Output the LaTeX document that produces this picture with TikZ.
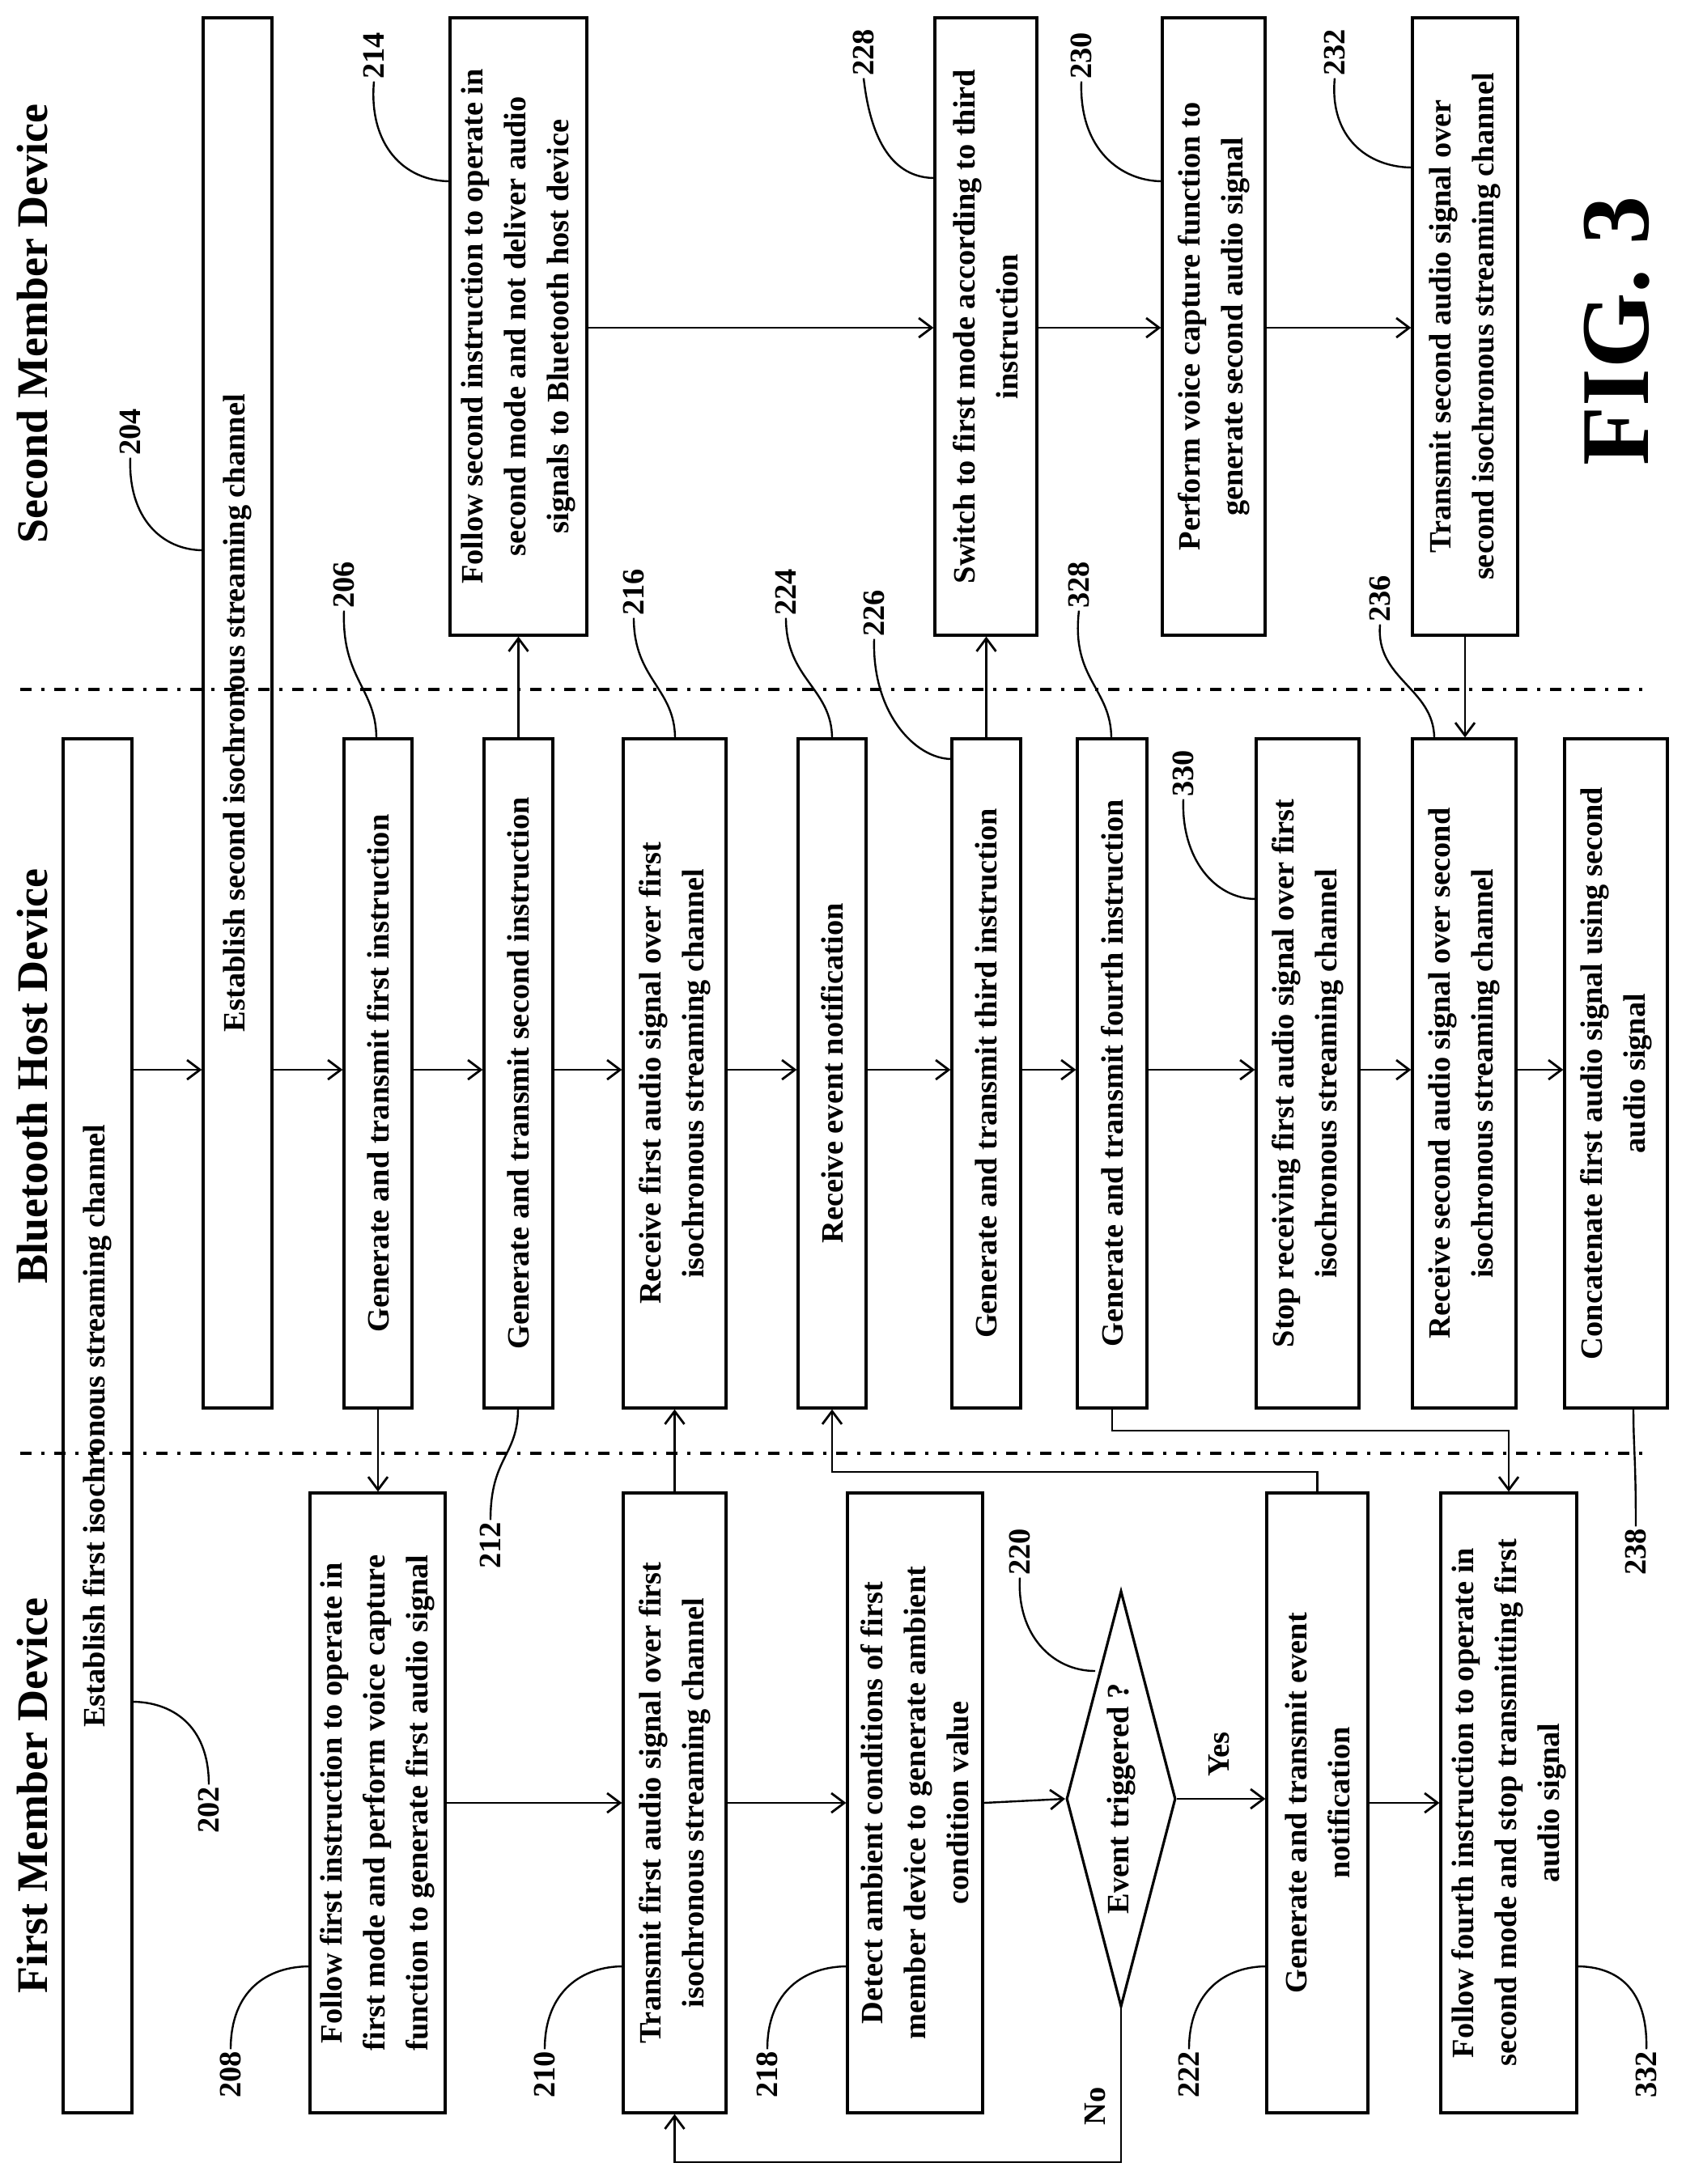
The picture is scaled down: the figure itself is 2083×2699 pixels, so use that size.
\documentclass[tikz,border=0pt]{standalone}
\usepackage{fontspec}
\setmainfont{Liberation Serif}
\usetikzlibrary{arrows.meta,shapes.geometric}
\begin{document}
\begin{tikzpicture}[x=0.25pt,y=-0.25pt,
  bx/.style 2 args={draw,line width=0.8pt,rotate=90,minimum width=#1*0.25pt,minimum height=#2*0.25pt,inner sep=1pt,align=center,font=\fontsize{9.6}{13.2}\selectfont\bfseries},
  lab/.style={rotate=90,inner sep=0.5pt,font=\fontsize{9.6}{11}\selectfont\bfseries},
  head/.style={rotate=90,inner sep=0pt,font=\fontsize{13.5}{15}\selectfont\bfseries},
  arr/.style={line width=0.6pt,-{Straight Barb[length=4pt,width=6pt,line width=0.7pt]}},
  lead/.style={line width=0.6pt},
  dd/.style={line width=1pt,dash pattern=on 3.5pt off 3pt on 1pt off 3pt}]
\useasboundingbox (0,0) rectangle (2083,2699);
\coordinate (r1) at (0,1322);
\coordinate (r2) at (0,405);
\coordinate (r3) at (0,2228);
% headings
\node[head] (h1) at (40,400) {Second Member Device};
\node[head] (h2) at (40,1330) {Bluetooth Host Device};
\node[head] (h3) at (40,2219) {First Member Device};
\node[rotate=90,font=\fontsize{30}{32}\selectfont\bfseries] (fig) at (1998,409) {FIG. 3};
% dashed separators
\draw[dd] (25,852) -- (2040,852);
\draw[dd] (25,1796) -- (2040,1796);
% long boxes
\node[bx={1698}{85}] (ef) at (120.5,1762) {Establish first isochronous streaming channel};
\node[bx={1718}{85}] (b204) at (293.5,881) {Establish second isochronous streaming channel};
% second member
\node[bx={763}{169}] (b214) at (640.5,403.5) {Follow second instruction to operate in\\second mode and not deliver audio\\signals to Bluetooth host device};
\node[bx={763}{126}] (b228) at (1218,403.5) {Switch to first mode according to third\\instruction};
\node[bx={763}{127}] (b230) at (1499.5,403.5) {Perform voice capture function to\\generate second audio signal};
\node[bx={763}{130}] (b232) at (1810,403.5) {Transmit second audio signal over\\second isochronous streaming channel};
% host
\node[bx={827}{84}] (b206) at (467,1326.5) {Generate and transmit first instruction};
\node[bx={827}{85}] (b212) at (640.5,1326.5) {Generate and transmit second instruction};
\node[bx={827}{127}] (b216) at (833.5,1326.5) {Receive first audio signal over first\\isochronous streaming channel};
\node[bx={827}{84}] (b224) at (1028,1326.5) {Receive event notification};
\node[bx={827}{85}] (b226) at (1218.5,1326.5) {Generate and transmit third instruction};
\node[bx={827}{86}] (b328) at (1374,1326.5) {Generate and transmit fourth instruction};
\node[bx={827}{127}] (b330) at (1615.5,1326.5) {Stop receiving first audio signal over first\\isochronous streaming channel};
\node[bx={827}{128}] (b236) at (1809,1326.5) {Receive second audio signal over second\\isochronous streaming channel};
\node[bx={827}{127}] (b238) at (1996.5,1326.5) {Concatenate first audio signal using second\\audio signal};
% first member
\node[bx={766}{167}] (b208) at (466.5,2228) {Follow first instruction to operate in\\first mode and perform voice capture\\function to generate first audio signal};
\node[bx={766}{127}] (b210) at (833.5,2228) {Transmit first audio signal over first\\isochronous streaming channel};
\node[bx={766}{167}] (b218) at (1130.5,2228) {Detect ambient conditions of first\\member device to generate ambient\\condition value};
\node[draw,line width=0.8pt,diamond,rotate=90,minimum width=514*0.25pt,minimum height=135*0.25pt,inner sep=0pt] (d) at (1385,2223) {};
\node[lab] (dt) at (d.center) {Event triggered ?};
\node[bx={766}{125}] (b222) at (1627.5,2228) {Generate and transmit event\\notification};
\node[bx={766}{168}] (b332) at (1864,2228) {Follow fourth instruction to operate in\\second mode and stop transmitting first\\audio signal};
% horizontal arrows host
\draw[arr] (ef.south |- r1) -- (b204.north |- r1);
\draw[arr] (b204.south |- r1) -- (b206.north |- r1);
\draw[arr] (b206.south |- r1) -- (b212.north |- r1);
\draw[arr] (b212.south |- r1) -- (b216.north |- r1);
\draw[arr] (b216.south |- r1) -- (b224.north |- r1);
\draw[arr] (b224.south |- r1) -- (b226.north |- r1);
\draw[arr] (b226.south |- r1) -- (b328.north |- r1);
\draw[arr] (b328.south |- r1) -- (b330.north |- r1);
\draw[arr] (b330.south |- r1) -- (b236.north |- r1);
\draw[arr] (b236.south |- r1) -- (b238.north |- r1);
% second row
\draw[arr] (b214.south |- r2) -- (b228.north |- r2);
\draw[arr] (b228.south |- r2) -- (b230.north |- r2);
\draw[arr] (b230.south |- r2) -- (b232.north |- r2);
% first row
\draw[arr] (b208.south |- r3) -- (b210.north |- r3);
\draw[arr] (b210.south |- r3) -- (b218.north |- r3);
\draw[arr] (b218.south |- r3) -- (d.north);
\draw[arr] (d.south) -- (b222.north |- d.south);
\draw[arr] (b222.south |- r3) -- (b332.north |- r3);
\node[lab] (yes) at (1506,2168) {Yes};
\node[lab] (no) at (1353,2603) {No};
% vertical arrows
\draw[arr] (b206.west) -- (b206.west |- b208.east);
\draw[arr] (b212.east) -- (b212.east |- b214.west);
\draw[arr] (b210.east) -- (b210.east |- b216.west);
\coordinate (k1) at (1028,1819);
\draw[arr] (b222.east) |- (k1) -- (b224.west);
\draw[arr] (b226.east) -- (b226.east |- b228.west);
\draw[arr] (b232.west) -- (b232.west |- b236.east);
\coordinate (k2) at (1864,1768);
\draw[arr] (b328.west) |- (k2) -- (b332.east);
\coordinate (k3) at (1385,2672);
\draw[arr] (d.west) -- (d.west |- k3) -| (b210.west);
% labels and leaders
\node[lab] (l204) at (161,534) {204};
\draw[lead] (l204.west) .. controls (158,640) and (200,680) .. (251,680);
\node[lab] (l214) at (462,69) {214};
\draw[lead] (l214.west) .. controls (455,180) and (500,224) .. (556,224);
\node[lab] (l206) at (425,723) {206};
\draw[lead] (l206.west) .. controls (422,840) and (465,850) .. (465,913);
\node[lab] (l216) at (783,732) {216};
\draw[lead] (l216.west) .. controls (783,840) and (834,850) .. (834,913);
\node[lab] (l224) at (971,732) {224};
\draw[lead] (l224.west) .. controls (971,840) and (1028,850) .. (1028,913);
\node[lab] (l228) at (1067,65) {228};
\draw[lead] (l228.west) .. controls (1077,185) and (1110,220) .. (1155,220);
\node[lab] (l230) at (1336,69) {230};
\draw[lead] (l230.west) .. controls (1333,185) and (1385,224) .. (1436,224);
\node[lab] (l232) at (1649,65) {232};
\draw[lead] (l232.west) .. controls (1642,170) and (1690,207) .. (1745,207);
\node[lab] (l226) at (1080,758) {226};
\draw[lead] (l226.west) .. controls (1077,880) and (1130,938) .. (1176,938);
\node[lab] (l328) at (1333,723) {328};
\draw[lead] (l328.west) .. controls (1323,840) and (1373,850) .. (1373,913);
\node[lab] (l330) at (1462,956) {330};
\draw[lead] (l330.west) .. controls (1459,1060) and (1500,1111) .. (1552,1111);
\node[lab] (l236) at (1705,740) {236};
\draw[lead] (l236.west) .. controls (1699,840) and (1772,850) .. (1772,913);
\node[lab] (l202) at (258,2237) {202};
\draw[lead] (l202.east) .. controls (258,2130) and (210,2103) .. (163,2103);
\node[lab] (l212) at (606,1910) {212};
\draw[lead] (l212.east) .. controls (606,1800) and (640,1800) .. (640,1740);
\node[lab] (l208) at (285,2564) {208};
\draw[lead] (l208.east) .. controls (285,2460) and (330,2430) .. (383,2430);
\node[lab] (l210) at (673,2564) {210};
\draw[lead] (l210.east) .. controls (673,2460) and (720,2430) .. (770,2430);
\node[lab] (l218) at (948,2564) {218};
\draw[lead] (l218.east) .. controls (948,2460) and (995,2430) .. (1047,2430);
\node[lab] (l220) at (1260,1918) {220};
\draw[lead] (l220.west) .. controls (1256,2020) and (1300,2065) .. (1353,2065);
\node[lab] (l222) at (1469,2564) {222};
\draw[lead] (l222.east) .. controls (1469,2460) and (1515,2430) .. (1565,2430);
\node[lab] (l332) at (2034,2564) {332};
\draw[lead] (l332.east) .. controls (2036,2460) and (2000,2430) .. (1948,2430);
\node[lab] (l238) at (2021,1918) {238};
\draw[lead] (l238.east) .. controls (2021,1800) and (2018,1790) .. (2018,1740);
\end{tikzpicture}
\end{document}
